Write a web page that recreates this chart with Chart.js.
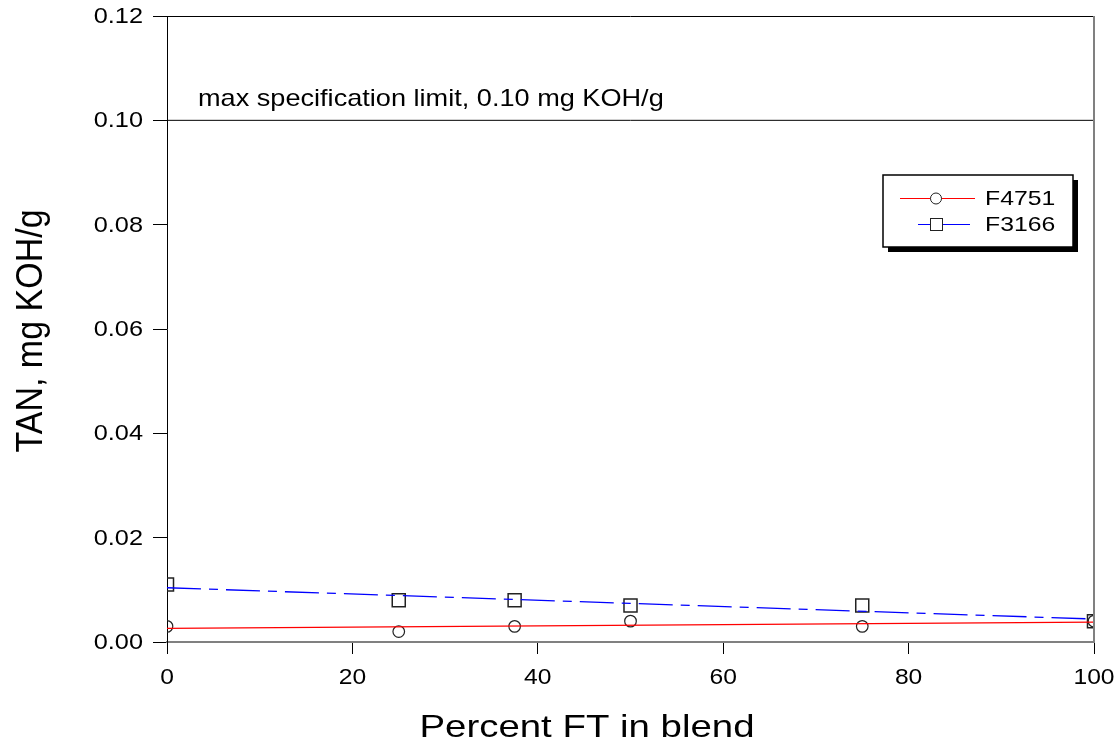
<!DOCTYPE html>
<html>
<head>
<meta charset="utf-8">
<script src="https://cdn.jsdelivr.net/npm/chart.js@4/dist/chart.umd.min.js"></script>
<style>
html,body{margin:0;padding:0;background:#fff;}
#wrap{width:1120px;height:742px;position:relative;}
</style>
</head>
<body>
<div id="wrap"><canvas id="c" width="1120" height="742"></canvas></div>
<script>
const blendPercent = [0, 25, 37.5, 50, 75, 100];
const tanF4751 = [0.003, 0.002, 0.003, 0.004, 0.003, 0.004];
const tanF3166 = [0.011, 0.008, 0.008, 0.007, 0.007, 0.004];
const fitX = [0, 100];
const fitF4751 = [0.0026, 0.0038];
const fitF3166 = [0.0104, 0.0044];
const limitValue = 0.10;
const limitLabel = 'max specification limit, 0.10 mg KOH/g';
const seriesNames = ['F4751', 'F3166'];
const xTitle = 'Percent FT in blend';
const yTitle = 'TAN, mg KOH/g';

const FONT = '"Liberation Sans", Arial, sans-serif';
const pts = (xs, ys) => xs.map((x, i) => ({x: x, y: ys[i]}));

function drawText(ctx, text, x, y, size, sx, align, baseline) {
  ctx.save();
  ctx.translate(x, y);
  ctx.scale(sx, 1);
  ctx.font = size + 'px ' + FONT;
  ctx.fillStyle = '#000';
  ctx.textAlign = align;
  ctx.textBaseline = baseline;
  ctx.fillText(text, 0, 0);
  ctx.restore();
}

const framePlugin = {
  id: 'frame',
  afterDatasetsDraw(chart) {
    const ctx = chart.ctx, a = chart.chartArea;
    const xs = chart.scales.x, ys = chart.scales.y;
    ctx.save();
    // top border
    ctx.strokeStyle = '#000'; ctx.lineWidth = 1;
    ctx.beginPath(); ctx.moveTo(a.left, a.top + 0.5); ctx.lineTo(a.right, a.top + 0.5); ctx.stroke();
    // right border
    ctx.strokeStyle = '#808080'; ctx.lineWidth = 2;
    ctx.beginPath(); ctx.moveTo(a.right, a.top); ctx.lineTo(a.right, a.bottom); ctx.stroke();

    // tick labels (from the library scales)
    ys.ticks.forEach(t => {
      drawText(ctx, t.value.toFixed(2), 143, ys.getPixelForValue(t.value) + 1, 22, 1.15, 'right', 'middle');
    });
    xs.ticks.forEach(t => {
      drawText(ctx, String(t.value), xs.getPixelForValue(t.value), 678, 22, 1.12, 'center', 'middle');
    });

    // axis titles
    drawText(ctx, xTitle, 587, 737, 32, 1.2, 'center', 'alphabetic');
    ctx.save();
    ctx.translate(42, 331);
    ctx.rotate(-Math.PI / 2);
    ctx.scale(1, 1.1);
    ctx.font = '34px ' + FONT;
    ctx.fillStyle = '#000';
    ctx.textAlign = 'center';
    ctx.textBaseline = 'alphabetic';
    ctx.fillText(yTitle, 0, 0);
    ctx.restore();

    // limit label
    const yl = ys.getPixelForValue(limitValue);
    drawText(ctx, limitLabel, 198, yl - 14, 24, 1.13, 'left', 'alphabetic');

    // legend
    const lx = 883, ly = 175, lw = 190, lh = 72;
    ctx.fillStyle = '#000';
    ctx.fillRect(lx + 5, ly + 5, lw, lh);
    ctx.fillStyle = '#fff';
    ctx.fillRect(lx, ly, lw, lh);
    ctx.strokeStyle = '#000'; ctx.lineWidth = 1.5;
    ctx.strokeRect(lx, ly, lw, lh);
    ctx.lineWidth = 1;
    ctx.strokeStyle = '#ff0000';
    ctx.beginPath(); ctx.moveTo(900, 198.5); ctx.lineTo(975, 198.5); ctx.stroke();
    ctx.strokeStyle = '#222';
    ctx.beginPath(); ctx.arc(936, 198.5, 5.5, 0, Math.PI * 2); ctx.fillStyle = '#fff'; ctx.fill(); ctx.stroke();
    ctx.strokeStyle = '#0000ff';
    ctx.beginPath(); ctx.moveTo(918, 224.5); ctx.lineTo(970, 224.5); ctx.stroke();
    ctx.strokeStyle = '#222';
    ctx.fillStyle = '#fff';
    ctx.fillRect(930.5, 218.5, 12, 12);
    ctx.strokeRect(930.5, 218.5, 12, 12);
    drawText(ctx, seriesNames[0], 985, 199, 21, 1.18, 'left', 'middle');
    drawText(ctx, seriesNames[1], 985, 225, 21, 1.18, 'left', 'middle');
    ctx.restore();
  }
};

new Chart(document.getElementById('c'), {
  type: 'scatter',
  data: {
    datasets: [
      {
        label: 'limit',
        data: pts(fitX, [limitValue, limitValue]),
        showLine: true, borderColor: '#000', borderWidth: 1,
        pointRadius: 0
      },
      {
        label: seriesNames[0] + ' fit',
        data: pts(fitX, fitF4751),
        showLine: true, borderColor: '#ff0000', borderWidth: 1.3,
        pointRadius: 0
      },
      {
        label: seriesNames[1] + ' fit',
        data: pts(fitX, fitF3166),
        showLine: true, borderColor: '#0000ff', borderWidth: 1.3,
        borderDash: [34, 8, 9, 8],
        pointRadius: 0
      },
      {
        label: seriesNames[0],
        data: pts(blendPercent, tanF4751),
        showLine: false,
        pointStyle: 'circle', pointRadius: 5.8,
        pointBorderColor: '#222', pointBackgroundColor: 'rgba(255,255,255,0)', pointBorderWidth: 1.2
      },
      {
        label: seriesNames[1],
        data: pts(blendPercent, tanF3166),
        showLine: false,
        pointStyle: 'rect', pointRadius: 9.2,
        pointBorderColor: '#222', pointBackgroundColor: 'rgba(255,255,255,0)', pointBorderWidth: 1.5
      }
    ]
  },
  options: {
    responsive: false,
    animation: false,
    layout: { padding: { left: 0, right: 26, top: 16, bottom: 0 } },
    plugins: { legend: { display: false }, tooltip: { enabled: false } },
    scales: {
      x: {
        type: 'linear', min: 0, max: 100,
        afterFit(s) { s.height = 100; },
        ticks: { stepSize: 20, display: false, maxRotation: 0 },
        grid: { drawOnChartArea: false, drawTicks: true, tickLength: 12, color: '#000', lineWidth: 1 },
        border: { display: true, color: '#808080', width: 2 },
        title: { display: false }
      },
      y: {
        type: 'linear', min: 0, max: 0.12,
        afterFit(s) { s.width = 167; },
        ticks: { stepSize: 0.02, display: false },
        grid: { drawOnChartArea: false, drawTicks: true, tickLength: 14, color: '#000', lineWidth: 1 },
        border: { display: true, color: '#000', width: 1 },
        title: { display: false }
      }
    }
  },
  plugins: [framePlugin]
});
</script>
</body>
</html>
